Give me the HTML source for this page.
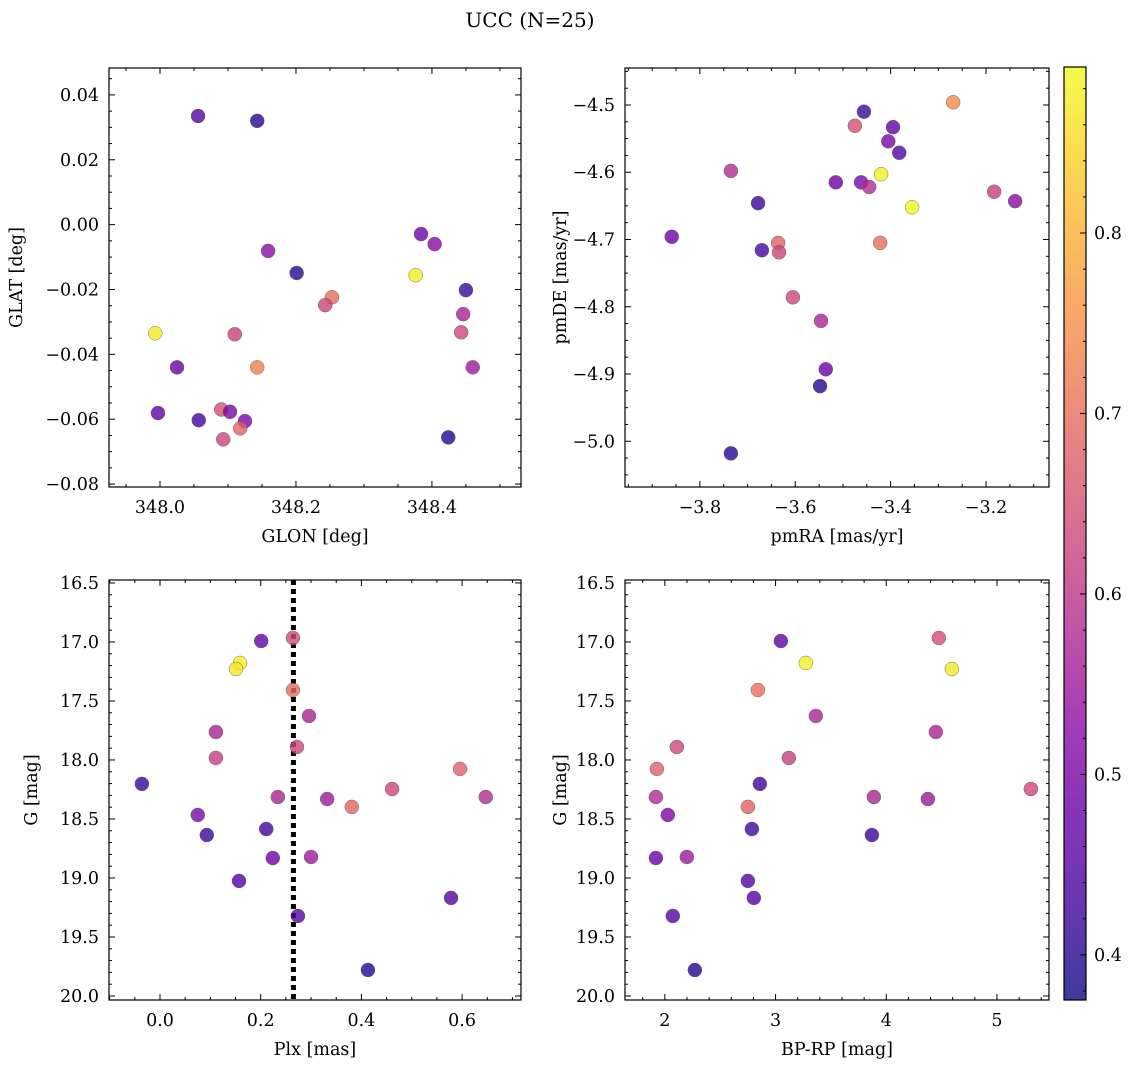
<!DOCTYPE html>
<html><head><meta charset="utf-8">
<style>
html,body{margin:0;padding:0;background:#fff;}
svg{display:block;font-family:"DejaVu Serif","Liberation Serif",serif;}
</style></head>
<body>
<svg id="fig" width="1136" height="1067" viewBox="0 0 1136 1067" xmlns="http://www.w3.org/2000/svg">
<text x="530" y="27" font-size="20" text-anchor="middle" fill="#000">UCC (N=25)</text>
</svg>
<script>
// ---- data ----
const glon = [348.056,348.143,348.159,348.201,348.253,348.243,348.376,348.384,348.404,348.450,348.446,348.443,348.460,348.424,347.993,348.110,348.025,348.143,347.997,348.057,348.090,348.103,348.125,348.118,348.093];
const glat = [0.0335,0.032,-0.0081,-0.0149,-0.0224,-0.0248,-0.0156,-0.0029,-0.006,-0.0202,-0.0276,-0.0332,-0.044,-0.0656,-0.0335,-0.0338,-0.044,-0.044,-0.0581,-0.0603,-0.057,-0.0577,-0.0606,-0.0628,-0.0662];
const colTL = [0.45,0.40,0.52,0.40,0.70,0.63,0.88,0.48,0.52,0.42,0.57,0.63,0.55,0.40,0.87,0.62,0.48,0.73,0.47,0.43,0.65,0.50,0.50,0.68,0.63];

const pmra = [-3.269,-3.456,-3.475,-3.395,-3.405,-3.382,-3.735,-3.420,-3.515,-3.462,-3.445,-3.355,-3.183,-3.139,-3.678,-3.859,-3.670,-3.636,-3.634,-3.422,-3.605,-3.546,-3.536,-3.548,-3.735];
const pmde = [-4.496,-4.510,-4.531,-4.533,-4.554,-4.571,-4.598,-4.603,-4.615,-4.615,-4.622,-4.652,-4.629,-4.643,-4.646,-4.696,-4.716,-4.705,-4.719,-4.705,-4.786,-4.821,-4.893,-4.918,-5.018];
const colTR = [0.74,0.42,0.65,0.47,0.50,0.45,0.58,0.88,0.48,0.50,0.58,0.89,0.62,0.52,0.42,0.48,0.43,0.68,0.63,0.70,0.63,0.57,0.48,0.40,0.40];

const plx = [0.264,0.201,0.159,0.151,0.264,0.296,0.111,0.272,0.111,0.596,-0.036,0.461,0.647,0.234,0.332,0.381,0.075,0.211,0.093,0.224,0.300,0.157,0.578,0.274,0.413];
const gmag = [16.966,16.992,17.178,17.229,17.407,17.627,17.763,17.890,17.983,18.076,18.203,18.246,18.314,18.314,18.331,18.398,18.466,18.585,18.636,18.831,18.822,19.025,19.169,19.322,19.780];
const colBL = [0.64,0.47,0.88,0.87,0.70,0.57,0.57,0.63,0.62,0.68,0.42,0.63,0.58,0.57,0.55,0.68,0.50,0.43,0.42,0.48,0.55,0.45,0.45,0.45,0.40];
const plxLine = 0.265;

const bprp = [4.475,3.048,3.274,4.593,2.84,3.364,4.448,2.108,3.120,1.928,2.858,5.306,1.919,3.888,4.376,2.750,2.027,2.786,3.870,1.919,2.199,2.750,2.804,2.072,2.271];
const gmag2 = [16.966,16.992,17.178,17.229,17.407,17.627,17.763,17.890,17.983,18.076,18.203,18.246,18.314,18.314,18.331,18.398,18.466,18.585,18.636,18.831,18.822,19.025,19.169,19.322,19.780];
const colBR = [0.64,0.47,0.88,0.87,0.70,0.57,0.57,0.63,0.62,0.68,0.42,0.63,0.58,0.57,0.55,0.68,0.50,0.43,0.42,0.48,0.55,0.45,0.45,0.45,0.40];

const cbTicks = [0.4,0.5,0.6,0.7,0.8];
const cMin = 0.375, cMax = 0.892;

// ---- helpers ----
const NS = "http://www.w3.org/2000/svg";
const svg = document.getElementById('fig');
const FS = 17.5;
function mk(tag, attrs, parent){ const e=document.createElementNS(NS,tag); for(const k in attrs) e.setAttribute(k,attrs[k]); (parent||svg).appendChild(e); return e; }
const plasma = [[13,8,135],[65,4,157],[106,0,168],[143,13,164],[177,42,144],[204,71,120],[225,100,98],[242,132,75],[252,166,54],[252,206,37],[240,249,33]];
function cmap(v){
  let t=(v-cMin)/(cMax-cMin); t=Math.max(0,Math.min(1,t));
  const p=t*10, i=Math.min(9,Math.floor(p)), f=p-i;
  const a=plasma[i], b=plasma[i+1];
  const c=a.map((x,k)=>Math.round(x+(b[k]-x)*f));
  return `rgb(${c[0]},${c[1]},${c[2]})`;
}
function fmt(v,d){ const s=Math.abs(v).toFixed(d); return (v<-1e-9?'\u2212':'')+s; }

function panel(o){
  const g = mk('g',{});
  
  
  const sx = v => o.x0 + (v-o.xmin)/(o.xmax-o.xmin)*(o.x1-o.x0);
  const sy = o.yinv ? (v => o.y0 + (v-o.ymin)/(o.ymax-o.ymin)*(o.y1-o.y0))
                    : (v => o.y1 - (v-o.ymin)/(o.ymax-o.ymin)*(o.y1-o.y0));
  const tg = mk('g',{stroke:'#000','stroke-width':1},g);
  const eps=1e-9;
  for(let v=Math.ceil(o.xmin/o.xminor-eps)*o.xminor; v<=o.xmax+eps; v+=o.xminor){
    const x=sx(v); const maj=Math.abs(v/o.xmajor-Math.round(v/o.xmajor))<1e-6; const L=maj?6:3;
    mk('line',{x1:x,x2:x,y1:o.y1,y2:o.y1-L},tg); mk('line',{x1:x,x2:x,y1:o.y0,y2:o.y0+L},tg);
  }
  const ylo=Math.min(o.ymin,o.ymax), yhi=Math.max(o.ymin,o.ymax);
  for(let v=Math.ceil(ylo/o.yminor-eps)*o.yminor; v<=yhi+eps; v+=o.yminor){
    const y=sy(v); const maj=Math.abs(v/o.ymajor-Math.round(v/o.ymajor))<1e-6; const L=maj?6:3;
    mk('line',{x1:o.x0,x2:o.x0+L,y1:y,y2:y},tg); mk('line',{x1:o.x1,x2:o.x1-L,y1:y,y2:y},tg);
  }
  o.xticks.forEach(v=>{
    const t=mk('text',{x:sx(v),y:o.y1+26,'font-size':FS,'text-anchor':'middle'},g); t.textContent=fmt(v,o.xdec);
    
    
  });
  o.yticks.forEach(v=>{
    const t=mk('text',{x:o.x0-10,y:sy(v)+6,'font-size':FS,'text-anchor':'end'},g); t.textContent=fmt(v,o.ydec);
    
    
  });
  const xl=mk('text',{x:(o.x0+o.x1)/2,y:o.y1+55,'font-size':FS,'text-anchor':'middle'},g); xl.textContent=o.xlabel;
  
  
  const yc=(o.y0+o.y1)/2;
  const yl=mk('text',{x:o.ylx,y:yc,'font-size':FS,'text-anchor':'middle',transform:`rotate(-90 ${o.ylx} ${yc})`},g); yl.textContent=o.ylabel;
  
  
  if(o.vline!==undefined){
    const l=mk('line',{x1:sx(o.vline),x2:sx(o.vline),y1:o.y0,y2:o.y1,stroke:'#000','stroke-width':5,'stroke-dasharray':'5 4'},g);
    
    
  }
  o.xs.forEach((xv,i)=>{
    const c=mk('circle',{cx:sx(xv),cy:sy(o.ys[i]),r:7,fill:cmap(o.cs[i]),'fill-opacity':0.8,stroke:'#555','stroke-width':0.4},g);
    
    
  });
  const fr=mk('rect',{x:o.x0,y:o.y0,width:o.x1-o.x0,height:o.y1-o.y0,fill:'none',stroke:'#000','stroke-width':1.2},g);
  
  
}

panel({name:'glon-glat-panel',x0:109,x1:521,y0:68,y1:487,xmin:347.925,xmax:348.531,ymin:-0.0809,ymax:0.0483,
  xmajor:0.2,xminor:0.05,ymajor:0.02,yminor:0.005,xticks:[348.0,348.2,348.4],xdec:1,yticks:[-0.08,-0.06,-0.04,-0.02,0,0.02,0.04],ydec:2,
  xlabel:'GLON [deg]',ylabel:'GLAT [deg]',ylx:22,xs:glon,ys:glat,cs:colTL});
panel({name:'pm-panel',x0:625,x1:1049,y0:68,y1:487,xmin:-3.957,xmax:-3.068,ymin:-5.068,ymax:-4.445,
  xmajor:0.2,xminor:0.05,ymajor:0.1,yminor:0.025,xticks:[-3.8,-3.6,-3.4,-3.2],xdec:1,yticks:[-5.0,-4.9,-4.8,-4.7,-4.6,-4.5],ydec:1,
  xlabel:'pmRA [mas/yr]',ylabel:'pmDE [mas/yr]',ylx:566,xs:pmra,ys:pmde,cs:colTR});
panel({name:'plx-g-panel',x0:109,x1:521,y0:580,y1:1000,xmin:-0.1013,xmax:0.717,ymin:16.475,ymax:20.034,yinv:true,
  xmajor:0.2,xminor:0.05,ymajor:0.5,yminor:0.1,xticks:[0,0.2,0.4,0.6],xdec:1,yticks:[16.5,17,17.5,18,18.5,19,19.5,20],ydec:1,
  xlabel:'Plx [mas]',ylabel:'G [mag]',ylx:37,xs:plx,ys:gmag,cs:colBL,vline:plxLine});
panel({name:'cmd-panel',x0:625,x1:1049,y0:580,y1:1000,xmin:1.64,xmax:5.47,ymin:16.475,ymax:20.034,yinv:true,
  xmajor:1,xminor:0.2,ymajor:0.5,yminor:0.1,xticks:[2,3,4,5],xdec:0,yticks:[16.5,17,17.5,18,18.5,19,19.5,20],ydec:1,
  xlabel:'BP-RP [mag]',ylabel:'G [mag]',ylx:566,xs:bprp,ys:gmag2,cs:colBR});

// colorbar
(function(){
  const cx0=1064,cx1=1086,cy0=67,cy1=1000;
  const g=mk('g',{});
  
  
  const defs=mk('defs',{},g);
  const lg=mk('linearGradient',{id:'cbg',x1:0,y1:1,x2:0,y2:0},defs);
  for(let i=0;i<=20;i++){ const t=i/20; mk('stop',{offset:t,'stop-color':cmap(cMin+t*(cMax-cMin)),'stop-opacity':0.8},lg); }
  mk('rect',{x:cx0,y:cy0,width:cx1-cx0,height:cy1-cy0,fill:'url(#cbg)'},g);
  const sy=v=>cy1-(v-cMin)/(cMax-cMin)*(cy1-cy0);
  for(let v=0.38;v<=cMax+1e-9;v+=0.02){
    const y=sy(v); const maj=Math.abs(v*10-Math.round(v*10))<1e-6; const L=maj?6:3;
    mk('line',{x1:cx1,x2:cx1-L,y1:y,y2:y,stroke:'#000','stroke-width':1},g);
  }
  cbTicks.forEach(v=>{
    const t=mk('text',{x:cx1+8,y:sy(v)+6,'font-size':FS},g); t.textContent=v.toFixed(1);
    
    
  });
  mk('rect',{x:cx0,y:cy0,width:cx1-cx0,height:cy1-cy0,fill:'none',stroke:'#000','stroke-width':1.2},g);
})();
</script>
</body></html>
